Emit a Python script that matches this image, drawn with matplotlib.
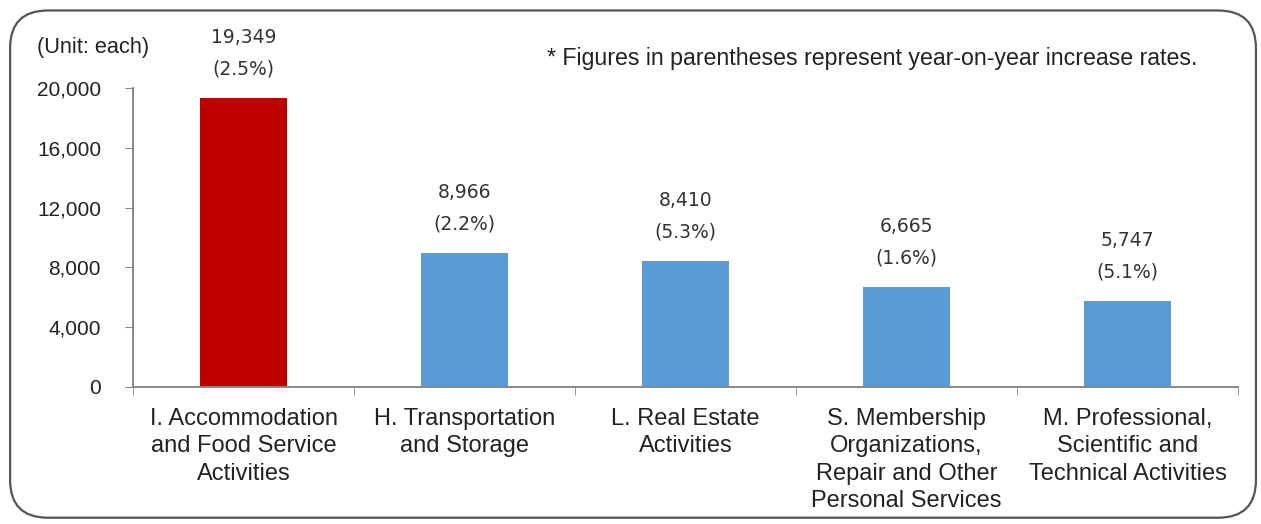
import matplotlib.pyplot as plt
from matplotlib.patches import FancyBboxPatch
from matplotlib.ticker import FuncFormatter

# data
categories = ["I. Accommodation\nand Food Service\nActivities",
              "H. Transportation\nand Storage",
              "L. Real Estate\nActivities",
              "S. Membership\nOrganizations,\nRepair and Other\nPersonal Services",
              "M. Professional,\nScientific and\nTechnical Activities"]
counts = [19349, 8966, 8410, 6665, 5747]
rates = [2.5, 2.2, 5.3, 1.6, 5.1]
bar_colors = ["#C00000", "#5B9BD5", "#5B9BD5", "#5B9BD5", "#5B9BD5"]

plt.rcParams['font.family'] = ['Liberation Sans', 'DejaVu Sans']

fig = plt.figure(figsize=(12.61, 5.24), dpi=100)
ax = fig.add_axes([0.1055, 0.2615, 0.8763, 0.5705])

# rounded frame around the whole chart
frame = FancyBboxPatch((0.008, 0.012), 0.988, 0.968,
                       boxstyle="round,pad=0,rounding_size=0.03",
                       transform=fig.transFigure, facecolor="none",
                       edgecolor="#555555", linewidth=1.6,
                       mutation_aspect=1261 / 524)
fig.patches.append(frame)

x = range(len(categories))
bars = ax.bar(x, counts, width=0.39, color=bar_colors)

for b, c, r in zip(bars, counts, rates):
    ax.annotate("{:,}\n({}%)".format(c, r),
                (b.get_x() + b.get_width() / 2, b.get_height()),
                xytext=(0, 14), textcoords="offset points",
                ha="center", va="bottom", fontsize=13.5,
                family="DejaVu Sans", color="#333333", linespacing=1.85)

ax.set_xlim(-0.5, len(categories) - 0.5)
ax.set_ylim(0, 20000)
ax.set_yticks(range(0, 20001, 4000))
ax.yaxis.set_major_formatter(FuncFormatter(lambda v, p: "{:,}".format(int(v))))
ax.set_xticks(list(x))
ax.set_xticklabels(categories, fontsize=17, color="#222222", linespacing=1.32)
ax.set_xticks([i - 0.5 for i in range(len(categories) + 1)], minor=True)
ax.tick_params(axis="x", which="major", length=0, pad=15)
ax.tick_params(axis="x", which="minor", length=6, color="#888888", direction="out")
ax.tick_params(axis="y", length=6, color="#888888", labelsize=15, pad=17,
               labelcolor="#222222")

for s in ["top", "right"]:
    ax.spines[s].set_visible(False)
for s in ["left", "bottom"]:
    ax.spines[s].set_color("#888888")
    ax.spines[s].set_linewidth(1.4)

fig.text(0.029, 0.91, "(Unit: each)", fontsize=15.7, color="#222222", va="center")
fig.text(0.434, 0.888, "* Figures in parentheses represent year-on-year increase rates.",
         fontsize=16.7, color="#222222", va="center")

fig.savefig("out.png", dpi=100)
